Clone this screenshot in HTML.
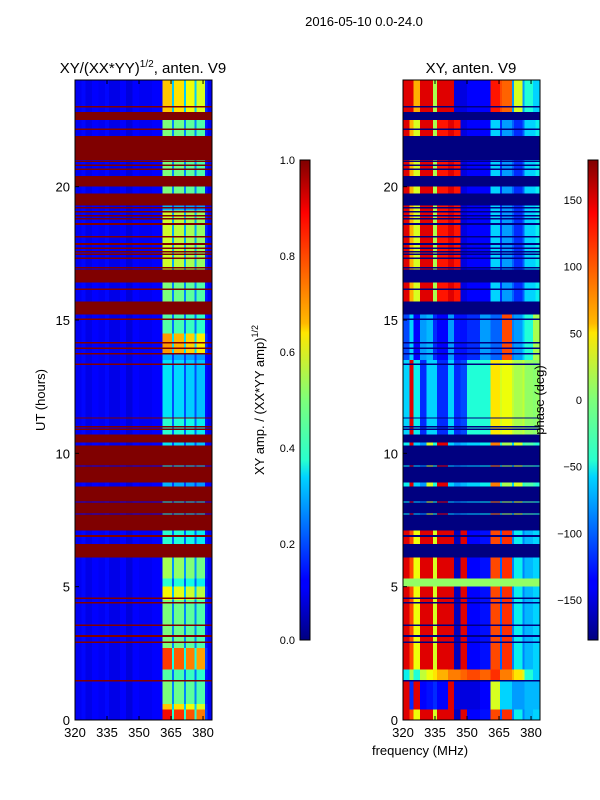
<!DOCTYPE html>
<html><head><meta charset="utf-8">
<style>
body{margin:0;background:#fff;}
svg{display:block;font-family:"Liberation Sans",sans-serif;}
</style></head>
<body>
<svg id="fig" width="600" height="800" viewBox="0 0 600 800" xmlns="http://www.w3.org/2000/svg">
<defs>
<linearGradient id="jet" x1="0" y1="1" x2="0" y2="0">
<stop offset="0" stop-color="#000080"/><stop offset="0.11" stop-color="#0000ff"/><stop offset="0.125" stop-color="#0000ff"/>
<stop offset="0.34" stop-color="#00d4ff"/><stop offset="0.375" stop-color="#29ffce"/><stop offset="0.5" stop-color="#7dff7a"/>
<stop offset="0.64" stop-color="#ffe600"/><stop offset="0.66" stop-color="#ffb900"/><stop offset="0.89" stop-color="#ff0000"/><stop offset="0.91" stop-color="#e60000"/><stop offset="1" stop-color="#800000"/>
</linearGradient>
</defs>
<text x="364" y="26" font-size="13" text-anchor="middle">2016-05-10 0.0-24.0</text>
<text x="143" y="73" font-size="15" text-anchor="middle">XY/(XX*YY)<tspan font-size="10" dy="-6">1/2</tspan><tspan dy="6">, anten. V9</tspan></text>
<text x="471" y="73" font-size="15" text-anchor="middle">XY, anten. V9</text>
<g id="left"></g>
<g id="right"></g>
<g id="axes"></g>
<text transform="translate(45,400) rotate(-90)" font-size="13" text-anchor="middle">UT (hours)</text>
<text x="420" y="755" font-size="13" text-anchor="middle">frequency (MHz)</text>
<rect x="300" y="160" width="10" height="480" fill="url(#jet)" stroke="#000" stroke-width="1"/>
<rect x="588" y="160" width="10" height="480" fill="url(#jet)" stroke="#000" stroke-width="1"/>
<text transform="translate(264,400) rotate(-90)" font-size="13" text-anchor="middle">XY amp. / (XX*YY amp)<tspan font-size="9" dy="-6">1/2</tspan></text>
<text transform="translate(544,400) rotate(-90)" font-size="13" text-anchor="middle">phase (deg)</text>
</svg>
<script>
const freqEdges=[320,323,325,328,331,334,336,341,344,347,350,356,361,365.5,366.5,371,372,376,377,381,382,384.2];
const ampBase=[0.10,0.13,0.09,0.12,0.10,0.13,0.09,0.11,0.08,0.12,0.10,0.11,0.12,0.12,0.12,0.12,0.12,0.12,0.12,0.11,0.10];
const ampGain=[0,0,0,0,0,0,0,0,0,0,0,0,1,0.35,0.95,0.35,0.9,0.35,0.85,0.1,0];
const phasePatterns=[
[150,120,50,150,150,40,150,150,-160,150,-140,-130,120,-100,130,-90,-50,-90,-70,-60,-60],
[-60,150,-50,-120,-60,-60,-120,-60,-120,-110,-40,-40,60,40,50,30,20,30,10,5,10],
[150,-120,150,-140,-130,-120,-140,150,-150,-150,-150,-140,40,-60,-60,-80,-80,-80,-70,-70,-70],
[-50,20,-40,30,50,60,80,100,100,110,120,110,130,100,100,80,60,40,-40,-60,-60],
[10,10,10,10,10,10,10,10,10,10,10,10,10,10,10,10,10,10,10,10,10],
[-50,150,-60,-80,40,-40,150,-60,-80,-70,-60,-50,100,-40,20,-60,40,-40,-20,-30,-40],
[-110,-60,-140,-80,-70,-120,-140,-80,-130,-130,-120,-80,-100,-100,120,-90,-80,-60,-40,20,20],
[150,80,40,150,150,20,140,150,140,-150,-140,-140,-60,-120,-80,-100,-120,-100,-60,-60,-50],
[150,150,80,150,150,20,150,150,-150,-150,-140,-140,140,120,110,-80,40,-80,-40,-60,-60]
];
const bandStart=[0,0.4,0.6,1.5,1.9,2.7,4.5,5.0,5.3,6.1,6.6,7.1,7.7,7.75,8.15,8.2,8.75,8.9,9.5,9.55,10.3,10.4,10.7,11.3,11.35,13.5,13.7,14.5,15.2,15.7,16.4,16.9,19.1,19.3,19.75,20.0,20.4,21.0,21.9,22.5,22.8];
const bandEnd  =[0.4,0.6,1.5,1.9,2.7,4.5,5.0,5.3,6.1,6.6,7.1,7.7,7.75,8.15,8.2,8.75,8.9,9.5,9.55,10.3,10.4,10.7,11.3,11.35,13.5,13.7,14.5,15.2,15.7,16.4,16.9,19.1,19.3,19.75,20.0,20.4,21.0,21.9,22.5,22.8,24];
const bandFlag =[0,0,0,0,0,0,0,0,0,1,0,1,0,1,0,1,0,1,0,1,0,1,0,1,0,0,0,0,1,0,1,0,0,1,0,1,0,1,0,1,0];
const bandAmpHigh=[0.9,0.7,0.5,0.45,0.85,0.5,0.65,0.4,0.55,1,0.4,1,0.35,1,0.35,1,0.3,1,0.35,1,0.35,1,0.4,1,0.35,0.3,0.75,0.45,1,0.5,1,0.6,0.3,1,0.5,1,0.5,1,0.5,1,0.7];
const bandPhase=[0,2,2,3,0,0,0,4,0,0,0,0,5,0,5,0,5,0,5,0,5,0,1,0,1,6,6,6,0,7,0,7,7,0,7,0,7,0,7,0,8];
const thinFlags=[23.0,22.15,20.95,20.8,20.65,19.21,19.06,18.91,18.79,18.6,18.12,17.85,17.69,17.56,17.46,17.31,16.96,16.16,15.03,14.15,13.94,13.73,13.34,11.0,10.9,6.9,4.56,4.4,3.56,3.15,2.91,1.47];

function jet(v){v=Math.max(0,Math.min(1,v));
 function seg(p){for(let i=0;i<p.length-1;i++){if(v<=p[i+1][0]){const t=(v-p[i][0])/(p[i+1][0]-p[i][0]);return p[i][1]+t*(p[i+1][1]-p[i][1]);}}return p[p.length-1][1];}
 const r=seg([[0,0],[0.35,0],[0.66,1],[0.89,1],[1,0.5]]),g=seg([[0,0],[0.125,0],[0.375,1],[0.64,1],[0.91,0],[1,0]]),b=seg([[0,0.5],[0.11,1],[0.34,1],[0.65,0],[1,0]]);
 return 'rgb('+Math.round(r*255)+','+Math.round(g*255)+','+Math.round(b*255)+')';}
const NS='http://www.w3.org/2000/svg';
const yS=t=>720-t*(640/24);
const xL=f=>75+(f-320)/(384.2-320)*137;
const xR=f=>403+(f-320)/(384.2-320)*137;
const L=document.getElementById('left'),R=document.getElementById('right'),A=document.getElementById('axes');
function rect(g,x,y,w,h,fill){const r=document.createElementNS(NS,'rect');r.setAttribute('x',x);r.setAttribute('y',y);r.setAttribute('width',w);r.setAttribute('height',h);r.setAttribute('fill',fill);r.setAttribute('shape-rendering','crispEdges');g.appendChild(r);return r;}
for(let b=0;b<bandStart.length;b++){
 const y0=yS(bandEnd[b]),h=yS(bandStart[b])-y0;
 for(let s=0;s<freqEdges.length-1;s++){
  let a,p;
  if(bandFlag[b]){a=1;p=-180;}else{a=ampBase[s]+ampGain[s]*(bandAmpHigh[b]-ampBase[s]);p=phasePatterns[bandPhase[b]][s];}
  const c1=rect(L,xL(freqEdges[s]),y0,xL(freqEdges[s+1])-xL(freqEdges[s]),h,jet(a));
  
  
  const c2=rect(R,xR(freqEdges[s]),y0,xR(freqEdges[s+1])-xR(freqEdges[s]),h,jet((p+180)/360));
  
  
 }
}
thinFlags.forEach(t=>{
 const a=rect(L,75,yS(t)-0.8,137,1.6,jet(1));
 
 
 const b=rect(R,403,yS(t)-0.8,137,1.6,jet(0));
 
 
});
function txt(x,y,s,anchor,name){const t=document.createElementNS(NS,'text');t.setAttribute('x',x);t.setAttribute('y',y);t.setAttribute('font-size','13');t.setAttribute('text-anchor',anchor);t.textContent=s;
 
 
 A.appendChild(t);}
function line(x1,y1,x2,y2){const l=document.createElementNS(NS,'line');l.setAttribute('x1',x1);l.setAttribute('y1',y1);l.setAttribute('x2',x2);l.setAttribute('y2',y2);l.setAttribute('stroke','#000');l.setAttribute('stroke-width','1');A.appendChild(l);}
const yTicks=[0,5,10,15,20];
const xTicks=[320,335,350,365,380];
[[75,xL],[403,xR]].forEach(([x0,xs])=>{
 const fr=document.createElementNS(NS,'rect');fr.setAttribute('x',x0);fr.setAttribute('y',80);fr.setAttribute('width',137);fr.setAttribute('height',640);fr.setAttribute('fill','none');fr.setAttribute('stroke','#000');
 
 
 A.appendChild(fr);
 yTicks.forEach(t=>{line(x0,yS(t),x0+4,yS(t));txt(x0-5,yS(t)+5,String(t),'end','y-tick-label');});
 xTicks.forEach(f=>{line(xs(f),720,xs(f),716);line(xs(f),80,xs(f),84);txt(xs(f),737,String(f),'middle','x-tick-label');});
});
const ampTicks=[0.0,0.2,0.4,0.6,0.8,1.0];
ampTicks.forEach(v=>{const y=640-v*480;line(300,y,304,y);line(306,y,310,y);
 const t=document.createElementNS(NS,'text');t.setAttribute('x',295);t.setAttribute('y',y+4);t.setAttribute('font-size','11');t.setAttribute('text-anchor','end');t.textContent=v.toFixed(1);
 
 
 A.appendChild(t);});
const phaseTicks=[-150,-100,-50,0,50,100,150];
phaseTicks.forEach(v=>{const y=400-v*240/180;line(588,y,592,y);line(594,y,598,y);
 const t=document.createElementNS(NS,'text');t.setAttribute('x',582);t.setAttribute('y',y+4);t.setAttribute('font-size','11');t.setAttribute('text-anchor','end');t.textContent=v<0?'\u2212'+(-v):String(v);
 
 
 A.appendChild(t);});
</script>
</body></html>
